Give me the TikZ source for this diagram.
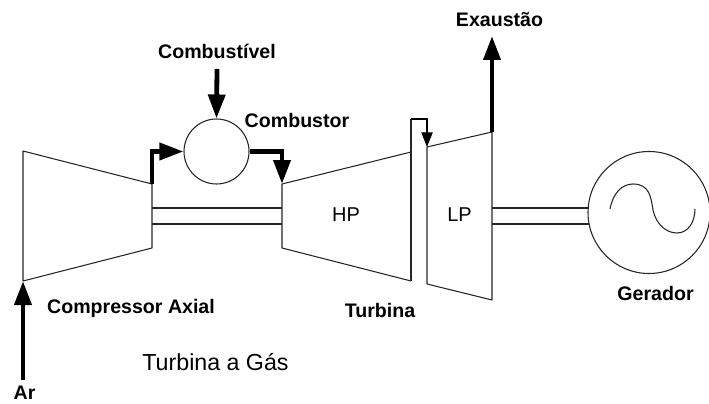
\documentclass[tikz,border=0pt]{standalone}
\usepackage{fontspec}
\setmainfont{Liberation Sans}
\usetikzlibrary{arrows.meta}
\definecolor{ink}{HTML}{262626}
\newcommand{\shaft}[2]{\draw[casing] (#1,208)--(#2,208) (#1,224)--(#2,224);}
\tikzset{casing/.style={ink,line width=.8pt,line join=round},
  flow/.style={black,line width=3.6pt,-{Triangle[width=12.5pt,length=18pt]}},
  bleed/.style={black,line width=.8pt,-{Triangle[width=8.5pt,length=11pt]}},
  wheel/.style={draw=ink,circle,line width=.8pt,inner sep=0pt},
  tag/.style={font=\fontsize{14.7}{18}\selectfont\bfseries,inner sep=0pt},
  plain/.style={inner sep=0pt}}
\begin{document}
\begin{tikzpicture}[x=.75pt,y=-.75pt]
\useasboundingbox (0,0) rectangle (709,403);
\draw[casing] (23,151)--(152,184)--(152,248)--(23,281)--cycle;
\draw[casing] (411,152)--(282,184)--(282,248)--(411,281);
\draw[casing] (427,147)--(492,132)--(492,300)--(427,284)--cycle;
\draw[casing] (411,281)--(411,119);
\shaft{152}{282}\shaft{492}{589}
\node[wheel,minimum size=48.75pt] (burner) at (216.5,151.5) {};
\node[wheel,minimum size=91.5pt] (gen) at (649,212.5) {};
\draw[casing] (610,209) .. controls (613,193) and (622,184) .. (633,184) .. controls (650,184) and (651,198) .. (653,210) .. controls (656,224) and (666,233) .. (677,233) .. controls (688,233) and (695,222) .. (695,209);
\coordinate (fuelin) at (217,69);\coordinate (airin) at (23,380);
\coordinate (compin) at (23,281);\coordinate (compout) at (152,184);
\coordinate (hpin) at (282,184);\coordinate (lpout) at (492,132);
\coordinate (exhaust) at (492,36);\coordinate (bleedin) at (411,119);
\coordinate (lpin) at (427,147);
\draw[flow] (airin)--(compin);
\draw[flow] (fuelin)--(burner.north);
\draw[flow] (compout)|-(burner.west);
\draw[flow] (burner.east)-|(hpin);
\draw[flow] (lpout)--(exhaust);
\draw[bleed] (bleedin)-|(lpin);
\node[tag] (fuellabel) at (217,51) {Combustível};
\node[tag] (burnerlabel) at (297,120) {Combustor};
\node[tag] (exhaustlabel) at (499.5,20) {Exaustão};
\node[tag] (complabel) at (131,308) {Compressor Axial};
\node[tag] (turblabel) at (380,310) {Turbina};
\node[tag] (airlabel) at (24.5,393) {Ar};
\node[tag] (genlabel) at (655.5,293) {Gerador};
\node[plain,font=\fontsize{15}{18}\selectfont] (hplabel) at (346,215) {HP};
\node[plain,font=\fontsize{15}{18}\selectfont] (lplabel) at (459.5,215) {LP};
\node[plain,font=\fontsize{17.4}{20}\selectfont] (title) at (215.5,362) {Turbina a Gás};
\end{tikzpicture}
\end{document}
